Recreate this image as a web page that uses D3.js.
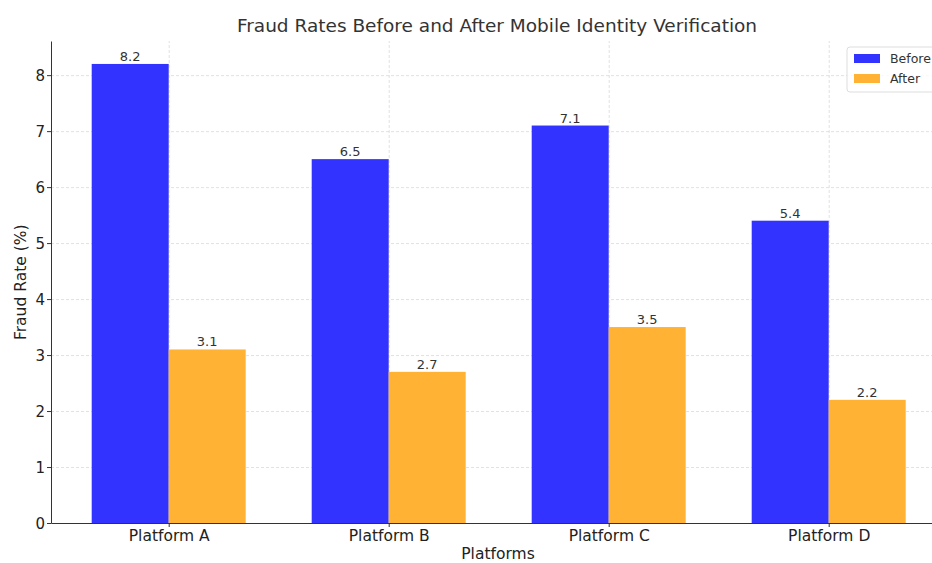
<!DOCTYPE html>
<html>
<head>
<meta charset="utf-8">
<script src="https://cdn.jsdelivr.net/npm/d3@7"></script>
<style>
  body { margin: 0; background: #fff; }
  svg, svg text { font-family: "DejaVu Sans", sans-serif; }
  .grid line { stroke: #d9d9d9; stroke-dasharray: 3,2; stroke-width: 0.8; }
  .grid path { display: none; }
  .axis text { fill: #222; }
  .axis path, .axis line { stroke: #333; stroke-width: 1; }
</style>
</head>
<body>
<div class="charts"></div>
<script>
// data
const platforms = ["Platform A", "Platform B", "Platform C", "Platform D"];
const before = [8.2, 6.5, 7.1, 5.4];
const after = [3.1, 2.7, 3.5, 2.2];
const series = ["Before", "After"];
const yTicks = [0, 1, 2, 3, 4, 5, 6, 7, 8];

const colors = {Before: "#3333ff", After: "#ffb233"};

const width = 932;
const height = 563;
const margin = {top: 41, left: 51, bottom: 40};
const innerHeight = height - margin.top - margin.bottom;

const svg = d3.select(".charts")
  .append("svg")
    .attr("width", width)
    .attr("height", height);

// bars are 0.35 wide each, like matplotlib; x runs over category index
const barW = 0.35;
const x = d3.scaleLinear()
  .domain([-0.535, 3.535])
  .range([margin.left, margin.left + 4.07 * 220]);

const y = d3.scaleLinear()
  .domain([0, 8.61])
  .range([height - margin.bottom, margin.top]);

const plotRight = x(3.535);

// grid
svg.append("g")
  .attr("class", "grid")
  .attr("transform", `translate(0, ${height - margin.bottom})`)
  .call(d3.axisBottom(x).tickValues(d3.range(platforms.length)).tickSize(-innerHeight).tickFormat(""));

svg.append("g")
  .attr("class", "grid")
  .attr("transform", `translate(${margin.left}, 0)`)
  .call(d3.axisLeft(y).tickValues(yTicks).tickSize(-(plotRight - margin.left)).tickFormat(""));

// bars
const rows = platforms.map((p, i) => ({i, Before: before[i], After: after[i]}));

series.forEach((s, k) => {
  const off = k === 0 ? -barW : 0;
  svg.selectAll(".bar-" + s)
    .data(rows)
    .enter()
    .append("rect")
      .attr("x", d => x(d.i + off))
      .attr("y", d => y(d[s]))
      .attr("width", d => x(d.i + off + barW) - x(d.i + off))
      .attr("height", d => y(0) - y(d[s]))
      .attr("fill", colors[s]);

  svg.selectAll(".lbl-" + s)
    .data(rows)
    .enter()
    .append("text")
      .attr("x", d => x(d.i + off + barW / 2))
      .attr("y", d => y(d[s]) - 3)
      .attr("text-anchor", "middle")
      .style("font-size", "13px")
      .style("fill", "#333")
      .text(d => d[s]);
});

// axes
const xAxis = svg.append("g")
  .attr("class", "axis")
  .attr("transform", `translate(0, ${height - margin.bottom})`)
  .call(d3.axisBottom(x).tickValues(d3.range(platforms.length)).tickSize(4).tickSizeOuter(0).tickFormat(i => platforms[i]));
xAxis.attr("font-family", null);
xAxis.selectAll("text")
  .attr("y", 18)
  .attr("dy", 0)
  .style("font-size", "15.5px");

const yAxis = svg.append("g")
  .attr("class", "axis")
  .attr("transform", `translate(${margin.left}, 0)`)
  .call(d3.axisLeft(y).tickValues(yTicks).tickSize(4).tickSizeOuter(0));
yAxis.attr("font-family", null);
yAxis.selectAll("text")
  .attr("x", -6)
  .attr("dy", "0.36em")
  .style("font-size", "15px");

// title and axis labels
svg.append("text")
  .attr("x", 497)
  .attr("y", 32)
  .attr("text-anchor", "middle")
  .style("font-size", "18.5px")
  .style("fill", "#333")
  .text("Fraud Rates Before and After Mobile Identity Verification");

svg.append("text")
  .attr("x", 498)
  .attr("y", 559)
  .attr("text-anchor", "middle")
  .style("font-size", "15.5px")
  .style("fill", "#222")
  .text("Platforms");

svg.append("text")
  .attr("transform", `translate(26, ${y(4.3)}) rotate(-90)`)
  .attr("text-anchor", "middle")
  .style("font-size", "15.5px")
  .style("fill", "#222")
  .text("Fraud Rate (%)");

// legend
const legend = svg.append("g").attr("transform", "translate(847, 47)");
legend.append("rect")
  .attr("width", 100).attr("height", 45).attr("rx", 3)
  .attr("fill", "#fff").attr("fill-opacity", 0.8)
  .attr("stroke", "#ddd");
series.forEach((s, k) => {
  legend.append("rect")
    .attr("x", 7).attr("y", 7 + k * 20)
    .attr("width", 26).attr("height", 9)
    .attr("fill", colors[s]);
  legend.append("text")
    .attr("x", 43).attr("y", 16 + k * 20)
    .style("font-size", "12.5px")
    .style("fill", "#333")
    .text(s);
});
</script>
</body>
</html>
